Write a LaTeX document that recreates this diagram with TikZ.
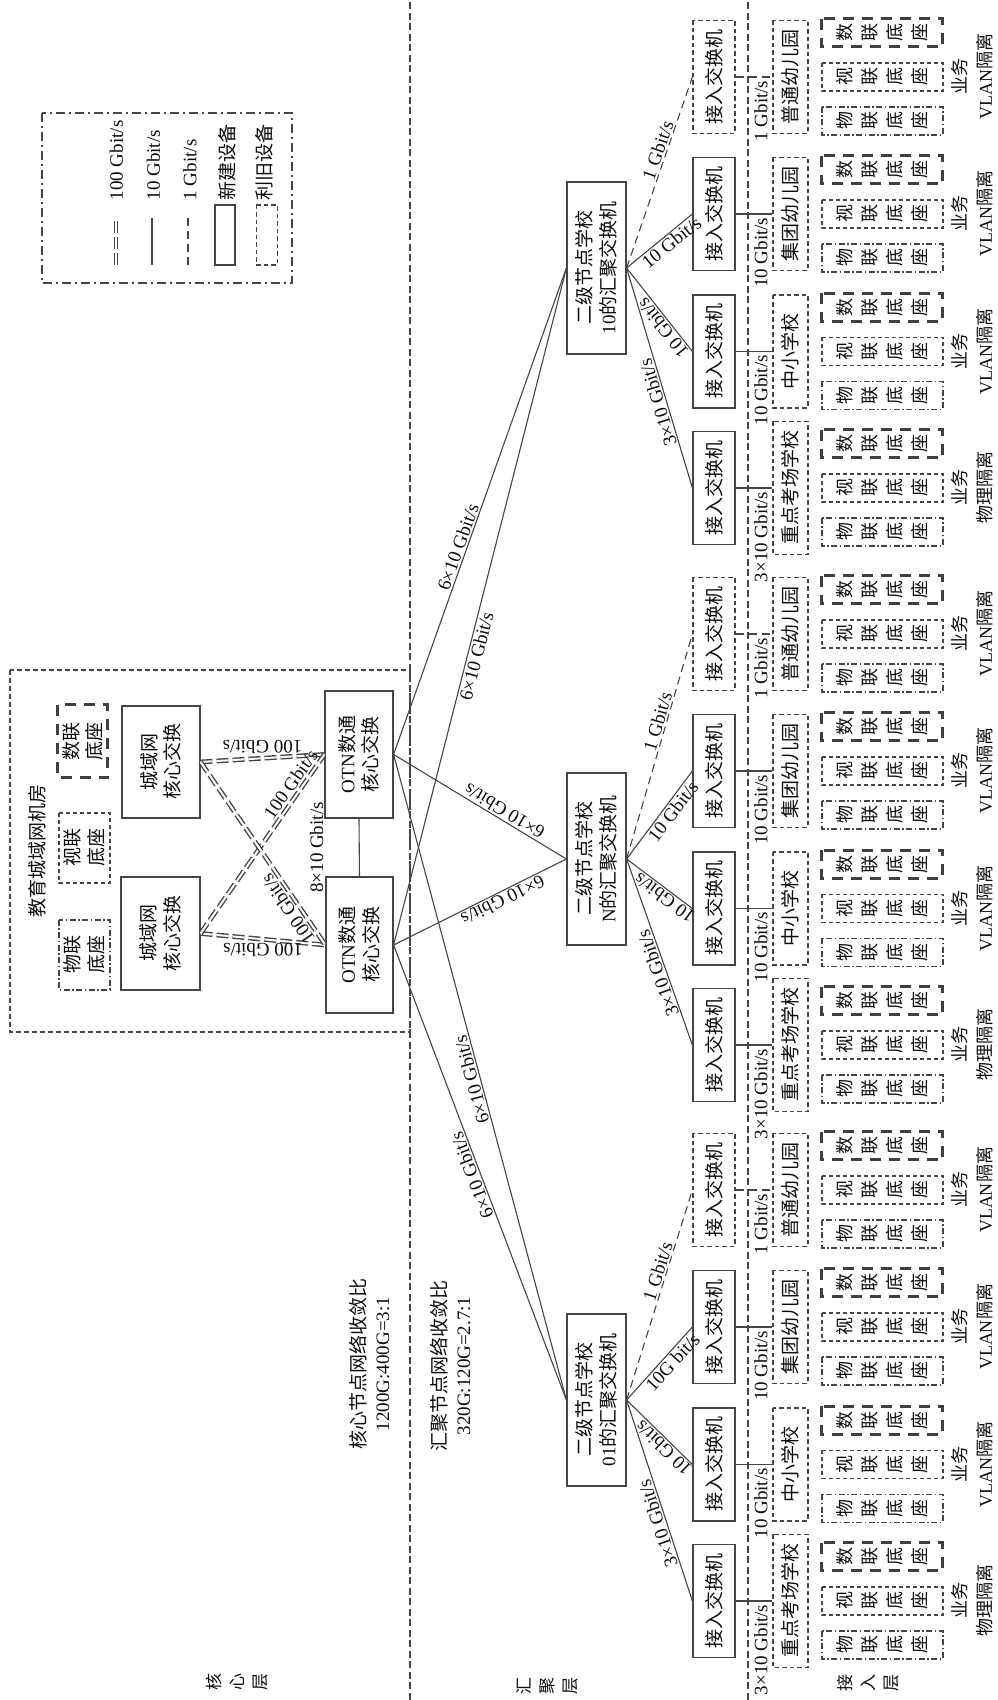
\documentclass[tikz,border=0pt]{standalone}
\usepackage{fontspec}
\setmainfont{Liberation Serif}
\newfontfamily\cjk{Noto Sans CJK SC}
\newcommand\zh[1]{{\cjk #1}}
\usetikzlibrary{calc}
\definecolor{ln}{gray}{0.27}
\definecolor{tx}{gray}{0.05}
\tikzset{
 fla/.style={font=\fontsize{19}{23.5}\selectfont},
 fzh/.style={font=\fontsize{19}{23.5}\selectfont\cjk},
 fbs/.style={font=\fontsize{18}{25}\selectfont\cjk},
 boxbase/.style={text=tx, inner sep=0pt, align=center},
 newdev/.style={boxbase, draw=ln, line width=1.2pt},
 olddev/.style={boxbase, draw=ln, line width=1.2pt, dash pattern=on 4.5pt off 3pt},
 iotdev/.style={boxbase, fbs, draw=ln, line width=1.2pt, dash pattern=on 6pt off 2.5pt on 1.5pt off 2.5pt, minimum width=28pt, minimum height=121pt},
 viddev/.style={boxbase, fbs, draw=ln, line width=1.2pt, dash pattern=on 4pt off 3pt, minimum width=28pt, minimum height=121pt},
 datdev/.style={boxbase, fbs, draw=black!75, line width=3pt, dash pattern=on 11pt off 8pt, minimum width=28pt, minimum height=121pt},
 lk/.style={draw=ln, line width=1.1pt},
 lkd/.style={draw=ln, line width=1.1pt, dash pattern=on 8pt off 5pt},
 lkh/.style={draw=ln, line width=1.4pt, double=white, double distance=2pt, dash pattern=on 12pt off 4pt},
 lab/.style={fla, text=tx, inner sep=1.5pt},
 sepline/.style={draw=ln, line width=1.3pt, dash pattern=on 7pt off 3.5pt},
 roombox/.style={draw=ln, line width=1.2pt, dash pattern=on 5pt off 3pt, inner sep=0pt},
 legbox/.style={draw=ln, line width=1.2pt, dash pattern=on 9pt off 4pt on 2pt off 4pt, inner sep=0pt},
}
% access column: name, X, access style, school, school width, isolation, link style, link label
\newcommand\acol[8]{%
 \node[#3, fzh, minimum width=113pt, minimum height=42pt] (#1) at (#2,283) {接入交换机};
 \node[olddev, fzh, minimum width=#5, minimum height=35pt] (#1s) at (#2,206.5) {#4};
 \draw[#7] (#1.south) -- (#1s.north);
 \node[lab, anchor=east] (#1k) at (#2-2,236) {#8};
 \node[iotdev] (#1p) at (#2-44,114.5) {物\\联\\底\\座};
 \node[viddev] (#1v) at (#2,114.5) {视\\联\\底\\座};
 \node[datdev] (#1d) at (#2+44,114.5) {数\\联\\底\\座};
 \node[boxbase, font=\fontsize{18}{25}\selectfont] (#1t) at (#2,24.5) {\zh{业务}\\#6};
}
\begin{document}
\begin{tikzpicture}[x=1pt, y=1pt, rotate=90, transform shape]
\useasboundingbox (0,0) rectangle (1700,997);

% layer separators
\coordinate (s1a) at (0,587); \coordinate (s1b) at (1700,587);
\coordinate (s2a) at (0,249); \coordinate (s2b) at (1700,249);
\draw[sepline] (s1a) -- (s1b);
\draw[sepline] (s2a) -- (s2b);

% layer labels
\node[boxbase, font=\fontsize{17}{23}\selectfont\cjk] (lcore) at (18,760) {核\\心\\层};
\node[boxbase, font=\fontsize{17}{23}\selectfont\cjk] (lagg) at (14,450) {汇\\聚\\层};
\node[boxbase, font=\fontsize{17}{23}\selectfont\cjk] (lacc) at (17,129) {接\\入\\层};

% ratio texts
\node[boxbase, fla] (rc) at (336,627.5) {\zh{核心节点网络收敛比}\\1200G:400G=3:1};
\node[boxbase, fla] (ra) at (334,546.5) {\zh{汇聚节点网络收敛比}\\320G:120G=2.7:1};

% legend
\node[legbox, minimum width=170pt, minimum height=250pt] (leg) at (1502,830) {};
\coordinate (lg1a) at (1435,881); \coordinate (lg1b) at (1482,881);
\draw[lkh] (lg1a) -- (lg1b);
\node[lab, anchor=west] (lgt1) at (1498,880.5) {100 Gbit/s};
\coordinate (lg2a) at (1435,845); \coordinate (lg2b) at (1482,845);
\draw[lk] (lg2a) -- (lg2b);
\node[lab, anchor=west] (lgt2) at (1498,843.5) {10 Gbit/s};
\coordinate (lg3a) at (1435,809); \coordinate (lg3b) at (1482,809);
\draw[lkd] (lg3a) -- (lg3b);
\node[lab, anchor=west] (lgt3) at (1498,807) {1 Gbit/s};
\node[newdev, minimum width=60pt, minimum height=20pt] (lg4) at (1465,772) {};
\node[boxbase, fzh, anchor=west] (lgt4) at (1499,770) {新建设备};
\node[olddev, minimum width=60pt, minimum height=21pt] (lg5) at (1465,730) {};
\node[boxbase, fzh, anchor=west] (lgt5) at (1499,733) {利旧设备};

% core room
\node[roombox, minimum width=362pt, minimum height=400pt] (room) at (849,787) {};
\node[boxbase, fzh] (roomt) at (849,960) {教育城域网机房};
\node[datdev, fzh, minimum width=73pt, minimum height=50pt] (cdat) at (958.5,914) {数联\\底座};
\node[viddev, fzh, minimum width=70pt, minimum height=51pt] (cvid) at (852,912.5) {视联\\底座};
\node[iotdev, fzh, minimum width=70pt, minimum height=51pt] (ciot) at (745,912.5) {物联\\底座};
\node[newdev, fzh, minimum width=112pt, minimum height=78pt] (mr) at (938,836) {城域网\\核心交换};
\node[newdev, fzh, minimum width=113pt, minimum height=79pt] (ml) at (766.5,836.5) {城域网\\核心交换};
\node[newdev, fla, minimum width=127pt, minimum height=68pt] (otr) at (945.5,638) {OTN\zh{数通}\\\zh{核心交换}};
\node[newdev, fla, minimum width=136pt, minimum height=67pt] (otl) at (755,637.5) {OTN\zh{数通}\\\zh{核心交换}};

\draw[lkh] (mr.south) -- (otr.north) node[lab, midway, rotate=90, anchor=north, inner sep=3.5pt] (h1) {100 Gbit/s};
\draw[lkh] (ml.south) -- (otl.north) node[lab, midway, rotate=90, anchor=south, inner sep=3.5pt] (h2) {100 Gbit/s};
\draw[lkh] (ml.south) -- (otr.north) node[lab, pos=0.8, rotate=-34.9, anchor=south, inner sep=3.5pt] (h3) {100 Gbit/s};
\draw[lkh] (mr.south) -- (otl.north) node[lab, pos=0.77, rotate=34.5, anchor=south, inner sep=3.5pt] (h4) {100 Gbit/s};
\draw[lk] (otl.east) -- (otr.west) node[lab, midway, anchor=south, yshift=34pt] (h5) {8×10 Gbit/s};

% aggregation switches
\node[newdev, fla, minimum width=172pt, minimum height=59pt] (ag01) at (300,400.5) {\zh{二级节点学校}\\01\zh{的汇聚交换机}};
\node[newdev, fla, minimum width=172pt, minimum height=59pt] (agN) at (841,400.5) {\zh{二级节点学校}\\N\zh{的汇聚交换机}};
\node[newdev, fla, minimum width=172pt, minimum height=59pt] (ag10) at (1432,400.5) {\zh{二级节点学校}\\10\zh{的汇聚交换机}};

\draw[lk] (otr.south) -- (ag10.north) node[lab, pos=0.42, rotate=-19.7, anchor=south] (o1) {6×10 Gbit/s};
\draw[lk] (otl.south) -- (ag10.north) node[lab, pos=0.43, rotate=-14.4, anchor=north] (o2) {6×10 Gbit/s};
\draw[lk] (otr.south) -- (agN.north) node[lab, pos=0.615, rotate=59, anchor=north] (o3) {6×10 Gbit/s};
\draw[lk] (otl.south) -- (agN.north) node[lab, pos=0.61, rotate=116.3, anchor=south] (o4) {6×10 Gbit/s};
\draw[lk] (otr.south) -- (ag01.north) node[lab, pos=0.5, rotate=15.1, anchor=south] (o5) {6×10 Gbit/s};
\draw[lk] (otl.south) -- (ag01.north) node[lab, pos=0.5, rotate=20.9, anchor=south] (o6) {6×10 Gbit/s};

% access columns
\acol{g01a1}{99}{newdev}{重点考场学校}{133pt}{\zh{物理隔离}}{lk}{3×10 Gbit/s}
\acol{g01a2}{235.5}{newdev}{中小学校}{113pt}{VLAN\zh{隔离}}{lk}{10 Gbit/s}
\acol{g01a3}{373}{newdev}{集团幼儿园}{113pt}{VLAN\zh{隔离}}{lk}{10 Gbit/s}
\acol{g01a4}{510}{olddev}{普通幼儿园}{113pt}{VLAN\zh{隔离}}{lkd}{1 Gbit/s}
\acol{gNa1}{655}{newdev}{重点考场学校}{133pt}{\zh{物理隔离}}{lk}{3×10 Gbit/s}
\acol{gNa2}{791.5}{newdev}{中小学校}{113pt}{VLAN\zh{隔离}}{lk}{10 Gbit/s}
\acol{gNa3}{929}{newdev}{集团幼儿园}{113pt}{VLAN\zh{隔离}}{lk}{10 Gbit/s}
\acol{gNa4}{1066}{olddev}{普通幼儿园}{113pt}{VLAN\zh{隔离}}{lkd}{1 Gbit/s}
\acol{gTa1}{1212}{newdev}{重点考场学校}{133pt}{\zh{物理隔离}}{lk}{3×10 Gbit/s}
\acol{gTa2}{1348.5}{newdev}{中小学校}{113pt}{VLAN\zh{隔离}}{lk}{10 Gbit/s}
\acol{gTa3}{1486}{newdev}{集团幼儿园}{113pt}{VLAN\zh{隔离}}{lk}{10 Gbit/s}
\acol{gTa4}{1623}{olddev}{普通幼儿园}{113pt}{VLAN\zh{隔离}}{lkd}{1 Gbit/s}

% aggregation to access
\draw[lk] (ag01.south) -- (g01a1.north) node[lab, pos=0.6, rotate=18.4, anchor=south] (e011) {3×10 Gbit/s};
\draw[lk] (ag01.south) -- (g01a2.north) node[lab, pos=0.65, rotate=46.1, anchor=south] (e012) {10 Gbit/s};
\draw[lk] (ag01.south) -- (g01a3.north) node[lab, pos=0.6, rotate=-42.5, anchor=north] (e013) {10G bit/s};
\draw[lkd] (ag01.south) -- (g01a4.north) node[lab, pos=0.6, rotate=-17.7, anchor=south] (e014) {1 Gbit/s};
\draw[lk] (agN.south) -- (gNa1.north) node[lab, pos=0.6, rotate=19.8, anchor=south] (eN1) {3×10 Gbit/s};
\draw[lk] (agN.south) -- (gNa2.north) node[lab, pos=0.65, rotate=53.5, anchor=south] (eN2) {10 Gbit/s};
\draw[lk] (agN.south) -- (gNa3.north) node[lab, pos=0.6, rotate=-37.3, anchor=north] (eN3) {10 Gbit/s};
\draw[lkd] (agN.south) -- (gNa4.north) node[lab, pos=0.6, rotate=-16.6, anchor=south] (eN4) {1 Gbit/s};
\draw[lk] (ag10.south) -- (gTa1.north) node[lab, pos=0.6, rotate=16.9, anchor=south] (eT1) {3×10 Gbit/s};
\draw[lk] (ag10.south) -- (gTa2.north) node[lab, pos=0.65, rotate=38.7, anchor=south] (eT2) {10 Gbit/s};
\draw[lk] (ag10.south) -- (gTa3.north) node[lab, pos=0.6, rotate=-51.1, anchor=north] (eT3) {10 Gbit/s};
\draw[lkd] (ag10.south) -- (gTa4.north) node[lab, pos=0.6, rotate=-19.3, anchor=south] (eT4) {1 Gbit/s};
\end{tikzpicture}
\end{document}
